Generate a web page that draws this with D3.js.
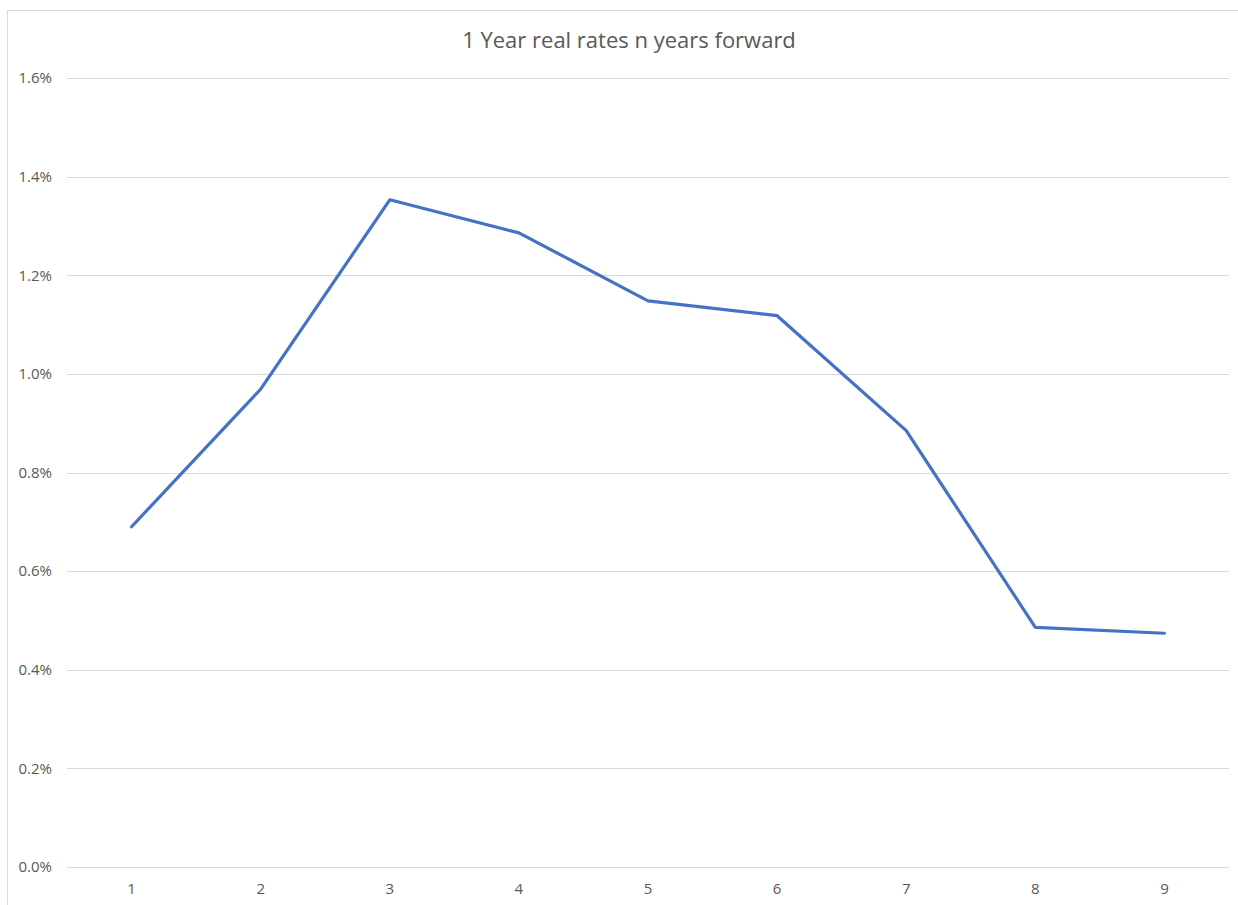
<!DOCTYPE html>
<html>
<head>
<meta charset="utf-8">
<script src="https://cdn.jsdelivr.net/npm/d3@7"></script>
<style>
  html, body { margin: 0; padding: 0; background: #fff; }
  svg { display: block; }
</style>
</head>
<body>
<svg id="chart" width="1238" height="905"></svg>
<script>
// 1-year real rate implied n years forward (in percent)
const categories = ["1", "2", "3", "4", "5", "6", "7", "8", "9"];
const rates = [0.690, 0.969, 1.353, 1.286, 1.148, 1.118, 0.885, 0.486, 0.474];
const yTicks = [0, 0.2, 0.4, 0.6, 0.8, 1.0, 1.2, 1.4, 1.6];
const title = "1 Year real rates n years forward";

const svg = d3.select("#chart");
const font = "'Open Sans', Lato, sans-serif";
const textColor = "#595959";

// chart frame (runs past the right and bottom edges of the page)
const frame = { left: 7, top: 10, width: 1244, height: 920 };
svg.append("rect")
  .attr("x", frame.left + 0.5).attr("y", frame.top + 0.5)
  .attr("width", frame.width).attr("height", frame.height)
  .attr("fill", "#fff")
  .attr("stroke", "#d9d9d9").attr("stroke-width", 1);

const plot = { left: 67, right: 1229, top: 78, bottom: 867 };

const x = d3.scaleBand()
  .domain(categories)
  .range([plot.left, plot.right]);

const y = d3.scaleLinear()
  .domain([0, 1.6])
  .range([plot.bottom, plot.top]);

// horizontal gridlines
svg.append("g")
  .selectAll("line")
  .data(yTicks)
  .join("line")
  .attr("x1", plot.left).attr("x2", plot.right)
  .attr("y1", d => Math.round(y(d)) + 0.5)
  .attr("y2", d => Math.round(y(d)) + 0.5)
  .attr("stroke", "#d9d9d9").attr("stroke-width", 1);

// y axis labels
const yAxis = d3.axisLeft(y)
  .tickValues(yTicks)
  .tickFormat(d => d.toFixed(1) + "%")
  .tickSize(0)
  .tickPadding(15);

svg.append("g")
  .attr("transform", `translate(${plot.left},0)`)
  .call(yAxis)
  .call(g => g.select(".domain").remove())
  .call(g => g.selectAll("text")
    .attr("font-family", font)
    .attr("font-size", 15)
    .attr("fill", textColor));

// x axis labels
const xAxis = d3.axisBottom(x)
  .tickSize(0)
  .tickPadding(16);

svg.append("g")
  .attr("transform", `translate(0,${plot.bottom})`)
  .call(xAxis)
  .call(g => g.select(".domain").remove())
  .call(g => g.selectAll("text")
    .attr("font-family", font)
    .attr("font-size", 15)
    .attr("fill", textColor));

// series line
const line = d3.line()
  .x((d, i) => x(categories[i]) + x.bandwidth() / 2)
  .y(d => y(d));

svg.append("path")
  .datum(rates)
  .attr("d", line)
  .attr("fill", "none")
  .attr("stroke", "#4472c4")
  .attr("stroke-width", 3.2)
  .attr("stroke-linejoin", "round")
  .attr("stroke-linecap", "round");

// title, centred on the chart frame
svg.append("text")
  .attr("x", frame.left + frame.width / 2)
  .attr("y", 48)
  .attr("text-anchor", "middle")
  .attr("font-family", font)
  .attr("font-size", 22)
  .attr("fill", textColor)
  .text(title);
</script>
</body>
</html>
